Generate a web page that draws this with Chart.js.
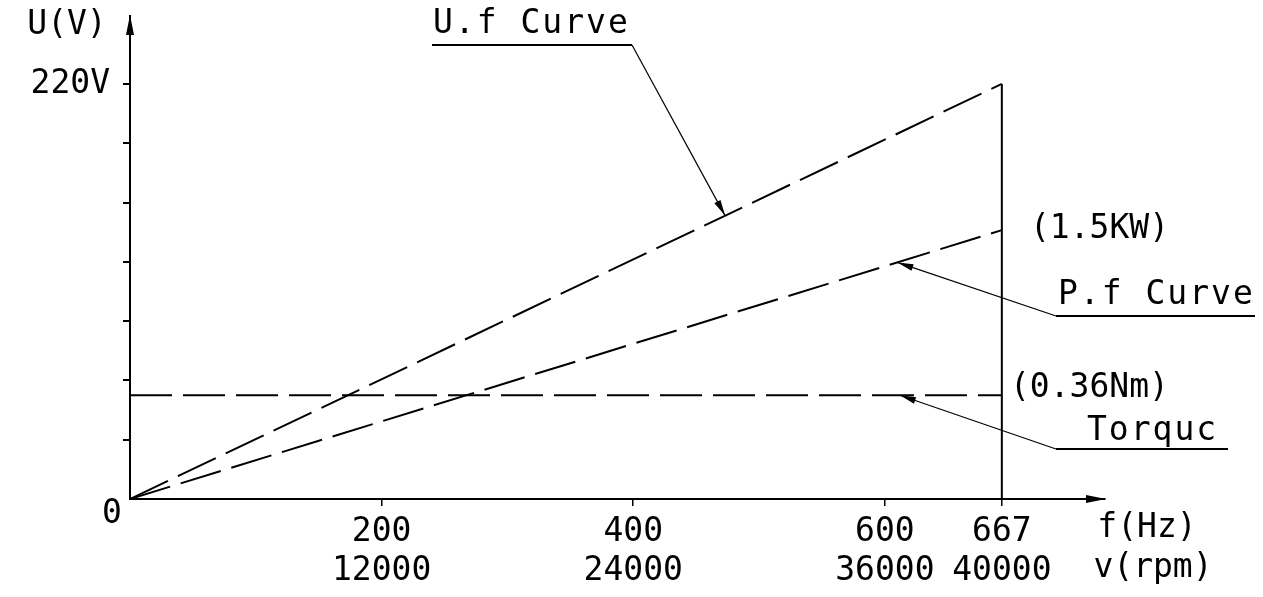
<!DOCTYPE html>
<html>
<head>
<meta charset="utf-8">
<script src="https://cdn.jsdelivr.net/npm/chart.js@4.4.1/dist/chart.umd.min.js"></script>
<style>
  html, body { margin: 0; background: #fff; }
  #wrap { width: 1263px; height: 597px; }
</style>
</head>
<body>
<div id="wrap"><canvas id="chart"></canvas></div>
<script>
// values
const freqLabels = ["200", "400", "600", "667"];
const rpmLabels = ["12000", "24000", "36000", "40000"];
// drawing is not to scale: 667 Hz sits where 693 would be
const freqTicks = [200, 400, 600, 693];
const voltTicks = [0, 31.43, 62.86, 94.29, 125.71, 157.14, 188.57, 220];
const freq = [0, 693];
const voltage = [0, 220];
const power = [0, 142.5];
const torque = [55, 55];

const FONT = '"DejaVu Sans Mono", monospace';

function arrowHead(ctx, x0, y0, x1, y1, len, half) {
    const a = Math.atan2(y1 - y0, x1 - x0);
    ctx.beginPath();
    ctx.moveTo(x1, y1);
    ctx.lineTo(x1 - len * Math.cos(a) + half * Math.sin(a), y1 - len * Math.sin(a) - half * Math.cos(a));
    ctx.lineTo(x1 - len * Math.cos(a) - half * Math.sin(a), y1 - len * Math.sin(a) + half * Math.cos(a));
    ctx.closePath();
    ctx.fill();
}

const overlay = {
    id: "overlay",
    afterDraw(chart) {
        const { ctx, chartArea: a, scales: { x, y } } = chart;
        ctx.save();
        ctx.fillStyle = "#000";
        ctx.strokeStyle = "#000";

        // axis arrows
        arrowHead(ctx, a.left, a.bottom, a.left, a.top - 1, 20, 4);
        arrowHead(ctx, a.left, a.bottom, a.right + 1, a.bottom, 20, 4);

        ctx.font = "33px " + FONT;
        ctx.textBaseline = "middle";
        ctx.textAlign = "center";
        ctx.fillText("U(V)", 67, 25);
        ctx.fillText("0", 112, 514);
        ctx.fillText("f(Hz)", 1147, 528);
        ctx.fillText("v(rpm)", 1153, 568);

        ctx.textAlign = "left";
        ctx.fillText("(1.5KW)", 1030, 229);
        ctx.fillText("(0.36Nm)", 1010, 388);

        // callouts with leader lines
        const notes = [
            { text: "U.f Curve", tx: 433, ty: 24, x0: 432, x1: 632, uy: 45, end: 632, at: [473, 150.2] },
            { text: "P.f Curve", tx: 1058, ty: 295, x0: 1056, x1: 1255, uy: 316, end: 1056, at: [610, 125.4] },
            { text: "Torquc", tx: 1087, ty: 431, x0: 1056, x1: 1228, uy: 449, end: 1056, at: [612, 55] },
        ];
        ctx.letterSpacing = "2px";
        notes.forEach(n => {
            ctx.fillText(n.text, n.tx, n.ty);
            ctx.lineWidth = 2;
            ctx.beginPath();
            ctx.moveTo(n.x0, n.uy);
            ctx.lineTo(n.x1, n.uy);
            ctx.stroke();
            const px = x.getPixelForValue(n.at[0]);
            const py = y.getPixelForValue(n.at[1]);
            ctx.lineWidth = 1.2;
            ctx.beginPath();
            ctx.moveTo(n.end, n.uy);
            ctx.lineTo(px, py);
            ctx.stroke();
            arrowHead(ctx, n.end, n.uy, px, py, 16, 3.5);
        });
        ctx.restore();
    },
};

const pts = vals => freq.map((f, i) => ({ x: f, y: vals[i] }));
const dash = [42, 11];

const chart = document.getElementById("chart");
new Chart(chart, {
    type: "line",
    data: {
        datasets: [
            { label: "U.f Curve", data: pts(voltage), borderDash: dash },
            { label: "P.f Curve", data: pts(power), borderDash: dash },
            { label: "Torquc", data: pts(torque), borderDash: dash },
            { label: "limit", data: [{ x: freq[1], y: 0 }, { x: freq[1], y: voltage[1] }] },
        ],
    },
    options: {
        responsive: true,
        maintainAspectRatio: false,
        animation: false,
        events: [],
        layout: { padding: { top: 16, right: 158, left: 0, bottom: 0 } },
        elements: {
            line: { borderColor: "#000", borderWidth: 2, tension: 0, fill: false },
            point: { radius: 0 },
        },
        plugins: { legend: { display: false }, tooltip: { enabled: false } },
        scales: {
            x: {
                type: "linear",
                min: 0,
                max: 775,
                afterFit: s => { s.height = 98; s.paddingLeft = 0; s.paddingRight = 0; },
                afterBuildTicks: s => { s.ticks = freqTicks.map(v => ({ value: v })); },
                border: { display: true, color: "#000", width: 2 },
                grid: { drawOnChartArea: false, color: "#000", lineWidth: 1.5, tickLength: 7 },
                ticks: {
                    autoSkip: false,
                    maxRotation: 0,
                    padding: 6,
                    color: "#000",
                    font: { family: FONT, size: 33, lineHeight: 1.21 },
                    callback: (v, i) => [freqLabels[i], rpmLabels[i]],
                },
            },
            y: {
                type: "linear",
                min: 0,
                max: 256,
                afterFit: s => { s.width = 130; s.paddingTop = 0; s.paddingBottom = 0; },
                afterBuildTicks: s => { s.ticks = voltTicks.map(v => ({ value: v })); },
                border: { display: true, color: "#000", width: 2 },
                grid: {
                    drawOnChartArea: false,
                    tickLength: 7,
                    lineWidth: 2,
                    color: c => (c.tick && c.tick.value === 0 ? "rgba(0,0,0,0)" : "#000"),
                },
                ticks: {
                    autoSkip: false,
                    padding: 13,
                    color: "#000",
                    font: { family: FONT, size: 33 },
                    callback: (v, i) => (i === voltTicks.length - 1 ? "220V" : ""),
                },
            },
        },
    },
    plugins: [overlay],
});
</script>
</body>
</html>
